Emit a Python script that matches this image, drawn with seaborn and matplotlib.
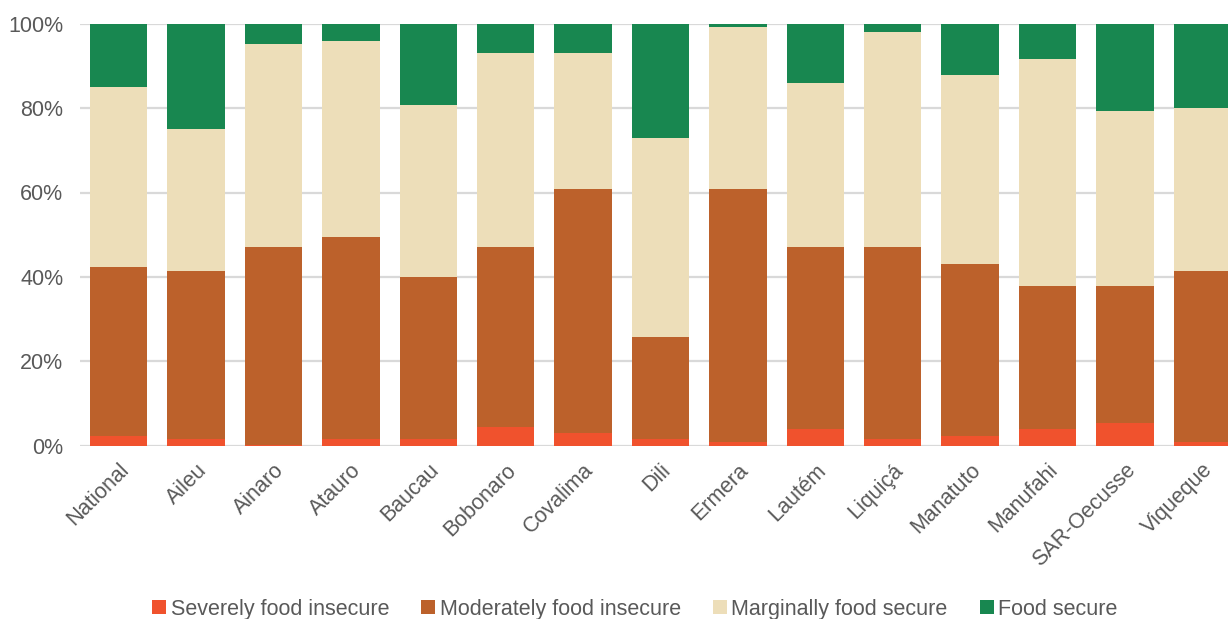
import numpy as np
import pandas as pd
import matplotlib
matplotlib.use("Agg")
import matplotlib.pyplot as plt
from matplotlib.patches import Patch
from matplotlib.ticker import FixedLocator
import seaborn as sns

municipalities = ["National", "Aileu", "Ainaro", "Atauro", "Baucau", "Bobonaro",
                  "Covalima", "Dili", "Ermera", "Lautém", "Liquiçá", "Manatuto",
                  "Manufahi", "SAR-Oecusse", "Viqueque"]

severely = [2.4, 1.5, 0.2, 1.5, 1.5, 4.5, 3.0, 1.5, 0.9, 3.9, 1.5, 2.4, 3.9, 5.3, 0.9]
moderately = [39.9, 40.0, 47.0, 47.9, 38.5, 42.7, 57.8, 24.3, 59.9, 43.3, 45.7, 40.6, 34.0, 32.6, 40.6]
marginally = [42.8, 33.6, 47.9, 46.4, 40.8, 45.8, 32.2, 47.2, 38.5, 38.7, 50.8, 44.9, 53.7, 41.5, 38.6]
secure = [14.9, 24.9, 4.9, 4.2, 19.2, 7.0, 7.0, 27.0, 0.7, 14.1, 2.0, 12.1, 8.4, 20.6, 19.9]

categories = ["Severely food insecure", "Moderately food insecure",
              "Marginally food secure", "Food secure"]
colors = ["#F0522D", "#BC612B", "#EDDEB9", "#188750"]

df = pd.DataFrame({"municipality": municipalities,
                   categories[0]: severely, categories[1]: moderately,
                   categories[2]: marginally, categories[3]: secure})
# normalise each row to 100% and stack cumulatively
shares = df[categories].div(df[categories].sum(axis=1), axis=0) * 100
cumulative = shares.cumsum(axis=1)
cumulative["municipality"] = df["municipality"]

sns.set_theme(style="white")
plt.rcParams["font.family"] = ["Liberation Sans", "DejaVu Sans"]
text_color = "#595959"

fig = plt.figure(figsize=(12.28, 6.19), dpi=100)
ax = fig.add_axes([80 / 1228, 1 - 445.7 / 619, 1161 / 1228, 422 / 619])

# draw the tallest cumulative layer first so each lower layer sits on top
for cat, col in zip(reversed(categories), reversed(colors)):
    sns.barplot(data=cumulative, x="municipality", y=cat, color=col,
                width=0.74, saturation=1, ax=ax, zorder=2, linewidth=0)

ax.set_ylim(0, 100)
ax.set_xlim(-0.5, len(municipalities) - 0.5)
ax.yaxis.set_major_locator(FixedLocator([0, 20, 40, 60, 80, 100]))
ax.set_yticklabels([f"{v}%" for v in range(0, 101, 20)])
ax.grid(axis="y", color="#D9D9D9", linewidth=1.6, zorder=0)
ax.set_axisbelow(True)
for s in ax.spines.values():
    s.set_visible(False)
ax.set_xlabel("")
ax.set_ylabel("")
ax.tick_params(axis="y", length=0, pad=12, labelsize=15.5, labelcolor=text_color)
ax.tick_params(axis="x", length=0, pad=10, labelsize=15.5, labelcolor=text_color)
ax.set_xticks(range(len(municipalities)))
ax.set_xticklabels(municipalities, rotation=45, ha="right", va="top",
                   rotation_mode="anchor")

handles = [Patch(facecolor=c, edgecolor="none") for c in colors]
fig.legend(handles, categories, loc="center", bbox_to_anchor=(0.517, 0.016),
           ncol=4, frameon=False, fontsize=15.5, labelcolor=text_color,
           handlelength=0.65, handleheight=0.65, handletextpad=0.2,
           columnspacing=1.5, borderpad=0)

fig.savefig("out.png", dpi=100)
